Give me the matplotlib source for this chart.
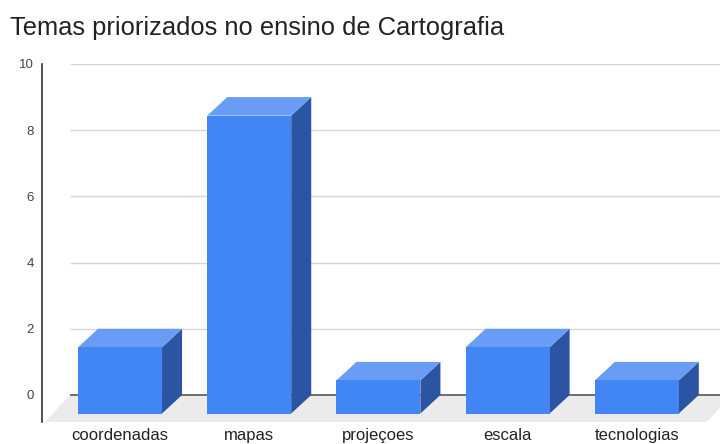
import matplotlib
matplotlib.use("Agg")
import matplotlib.pyplot as plt
from matplotlib.patches import Polygon

plt.rcParams["font.family"] = ["Liberation Sans", "DejaVu Sans"]

# Chart data
categories = ["coordenadas", "mapas", "projeçoes", "escala", "tecnologias"]
values = [2, 9, 1, 2, 1]
y_ticks = [0, 2, 4, 6, 8, 10]
title = "Temas priorizados no ensino de Cartografia"

# Pseudo-3D geometry (data units)
half_w = 0.325       # half width of the front face
depth_x = 0.155      # bar depth, horizontal shift
depth_y = 0.56       # bar depth, vertical shift
floor_dx = 0.1935
y_min, y_max = -0.816, 10.0
x_min, x_max = -0.604, 4.644

FRONT = "#4285f4"
TOP = "#689cf5"
SIDE = "#2b55a2"
FLOOR = "#ebebeb"

fig = plt.figure(figsize=(7.2, 4.44), dpi=100)
ax = fig.add_axes([42 / 720, 22 / 444, 678 / 720, 358 / 444])
ax.set_xlim(x_min, x_max)
ax.set_ylim(y_min, y_max)

# floor
ax.add_patch(Polygon([(x_min + 0.024, y_min), (4.543, y_min),
                      (4.543 + floor_dx, 0), (x_min + 0.024 + floor_dx, 0)],
                     closed=True, facecolor=FLOOR, edgecolor="none", zorder=1))

# gridlines on the back wall
grid_left = x_min + 0.024 + floor_dx
for t in y_ticks[1:]:
    ax.hlines(t, grid_left, x_max, color="#d6d6d6", lw=1.0, zorder=0.5)
ax.hlines(0, grid_left, x_max, color="#6e6e6e", lw=1.4, zorder=2)

# bars
for i, v in enumerate(values):
    l, r = i - half_w, i + half_w
    front = [(l, -depth_y), (r, -depth_y), (r, v - depth_y), (l, v - depth_y)]
    top = [(l, v - depth_y), (r, v - depth_y), (r + depth_x, v), (l + depth_x, v)]
    side = [(r, -depth_y), (r + depth_x, 0), (r + depth_x, v), (r, v - depth_y)]
    ax.add_patch(Polygon(side, closed=True, facecolor=SIDE, edgecolor="none", zorder=3))
    ax.add_patch(Polygon(top, closed=True, facecolor=TOP, edgecolor="none", zorder=3))
    ax.add_patch(Polygon(front, closed=True, facecolor=FRONT, edgecolor="none", zorder=4))

for s in ["top", "right", "bottom"]:
    ax.spines[s].set_visible(False)
ax.spines["left"].set_color("#333333")
ax.spines["left"].set_linewidth(1.2)

ax.set_yticks(y_ticks)
ax.set_yticklabels([str(t) for t in y_ticks], fontsize=9.5, color="#444444")
ax.tick_params(axis="y", length=0, pad=6)

ax.set_xticks(range(len(categories)))
ax.set_xticklabels(categories, fontsize=12, color="#222222")
ax.tick_params(axis="x", length=0, pad=4.5)

fig.text(10 / 720, 1 - 35 / 444, title, fontsize=18.4, color="#222222", va="baseline", ha="left")

fig.savefig("out.png", dpi=100)
